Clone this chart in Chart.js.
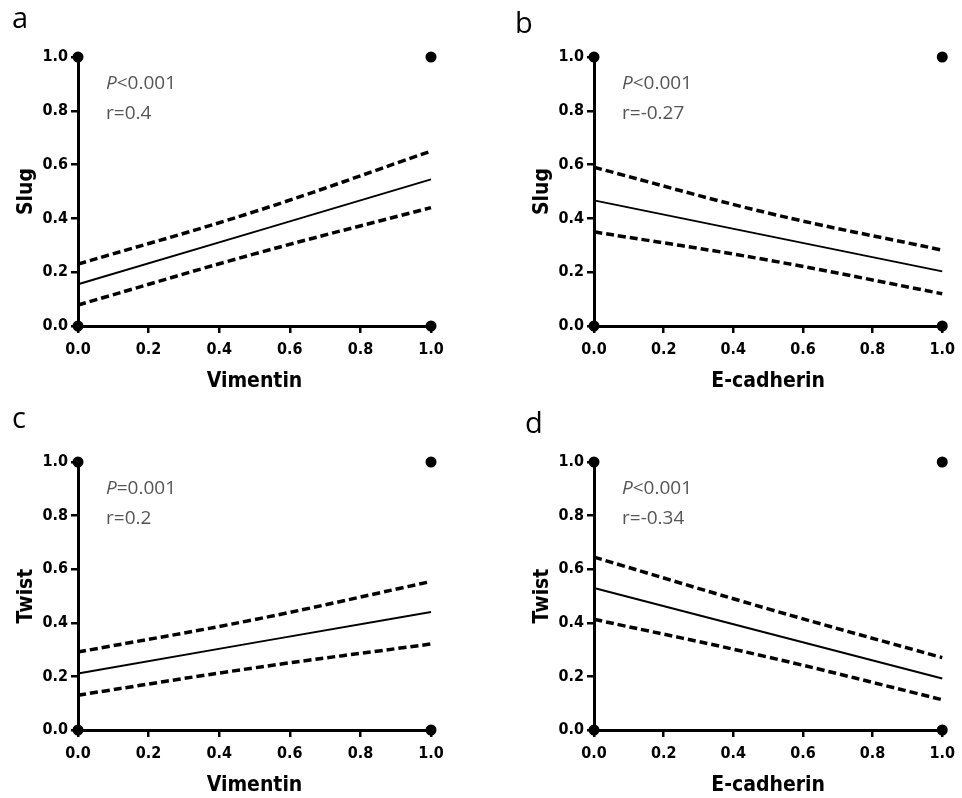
<!DOCTYPE html>
<html>
<head>
<meta charset="utf-8">
<script src="https://cdn.jsdelivr.net/npm/chart.js@4.4.0/dist/chart.umd.min.js"></script>
<style>
  body { margin: 0; background: #fff; }
  .panel { position: absolute; }
</style>
</head>
<body>
<div class="panel" style="left:0;top:0"><canvas id="chartA" width="481" height="400"></canvas></div>
<div class="panel" style="left:481px;top:0"><canvas id="chartB" width="481" height="400"></canvas></div>
<div class="panel" style="left:0;top:400px"><canvas id="chartC" width="481" height="398"></canvas></div>
<div class="panel" style="left:481px;top:400px"><canvas id="chartD" width="481" height="398"></canvas></div>
<script>
// x positions where the fit / CI lines are read
const xPoints = [0, 0.5, 1];
// observed data points (binary scores), same in all four panels
const cornerX = [0, 0, 1, 1];
const cornerY = [0, 1, 0, 1];

// a: Slug vs Vimentin
const slugVimFit = [0.155, 0.35, 0.545];
const slugVimUpper = [0.23, 0.425, 0.65];
const slugVimLower = [0.078, 0.268, 0.44];
// b: Slug vs E-cadherin
const slugEcadFit = [0.467, 0.335, 0.203];
const slugEcadUpper = [0.59, 0.42, 0.282];
const slugEcadLower = [0.35, 0.245, 0.12];
// c: Twist vs Vimentin
const twistVimFit = [0.211, 0.326, 0.44];
const twistVimUpper = [0.291, 0.412, 0.554];
const twistVimLower = [0.13, 0.232, 0.321];
// d: Twist vs E-cadherin
const twistEcadFit = [0.53, 0.361, 0.192];
const twistEcadUpper = [0.645, 0.452, 0.27];
const twistEcadLower = [0.413, 0.272, 0.113];

const axisTicks = [0, 0.2, 0.4, 0.6, 0.8, 1.0];

const narrowFamily = "'DejaVu Sans Condensed', 'Liberation Sans', Arial, sans-serif";
const tickFont = { family: narrowFamily, size: 16, weight: 'bold' };
const titleFont = { family: narrowFamily, size: 21, weight: 'bold' };

function toPoints(ys) {
    return xPoints.map((x, i) => ({ x: x, y: ys[i] }));
}

function labelPlugin(letter, letterPos, pLabel, rLabel) {
    return {
        id: 'labels' + letter,
        afterDraw(chart) {
            const ctx = chart.ctx;
            const area = chart.chartArea;
            ctx.save();
            ctx.fillStyle = '#000';
            ctx.font = "29px 'Open Sans', sans-serif";
            ctx.textBaseline = 'alphabetic';
            ctx.fillText(letter, letterPos[0], letterPos[1]);

            ctx.fillStyle = '#555';
            ctx.textBaseline = 'middle';
            const tx = area.left + 28;
            ctx.font = "italic 19px 'Open Sans', sans-serif";
            ctx.fillText('P', tx, area.top + 27);
            const pw = ctx.measureText('P').width;
            ctx.font = "19px 'Open Sans', sans-serif";
            ctx.fillText(pLabel, tx + pw, area.top + 27);
            ctx.fillText(rLabel, tx, area.top + 57);
            ctx.restore();
        }
    };
}

function makePanel(canvasId, cfg) {
    const lineStyle = { showLine: true, pointRadius: 0, borderColor: '#000', fill: false, clip: false, tension: 0.4 };
    new Chart(document.getElementById(canvasId), {
        type: 'scatter',
        data: {
            datasets: [
                { data: cornerX.map((x, i) => ({ x: x, y: cornerY[i] })), pointRadius: 5.5, pointBackgroundColor: '#000', pointBorderWidth: 0, clip: false },
                Object.assign({}, lineStyle, { data: toPoints(cfg.fit), borderWidth: 2, tension: 0 }),
                Object.assign({}, lineStyle, { data: toPoints(cfg.upper), borderWidth: 3.5, borderDash: [8, 4] }),
                Object.assign({}, lineStyle, { data: toPoints(cfg.lower), borderWidth: 3.5, borderDash: [8, 4] })
            ]
        },
        options: {
            responsive: false,
            animation: false,
            layout: { padding: cfg.padding },
            plugins: { legend: { display: false }, tooltip: { enabled: false } },
            scales: {
                x: {
                    type: 'linear', min: 0, max: 1,
                    afterBuildTicks: s => { s.ticks = axisTicks.map(v => ({ value: v })); },
                    afterFit: s => { s.height = 68; },
                    ticks: { callback: v => v.toFixed(1), font: tickFont, color: '#000', padding: 7, maxRotation: 0 },
                    grid: { drawOnChartArea: false, color: '#000', lineWidth: 2.5, tickLength: 7 },
                    border: { color: '#000', width: 3 },
                    title: { display: true, text: cfg.xTitle, font: titleFont, color: '#000', padding: 0 }
                },
                y: {
                    type: 'linear', min: 0, max: 1,
                    afterBuildTicks: s => { s.ticks = axisTicks.map(v => ({ value: v })); },
                    afterFit: s => { s.width = 64; },
                    ticks: { callback: v => v.toFixed(1), font: tickFont, color: '#000', padding: 3 },
                    grid: { drawOnChartArea: false, color: '#000', lineWidth: 2.5, tickLength: 7 },
                    border: { color: '#000', width: 3 },
                    title: { display: true, text: cfg.yTitle, font: titleFont, color: '#000', padding: 0 }
                }
            }
        },
        plugins: [labelPlugin(cfg.letter, cfg.letterPos, cfg.pLabel, cfg.rLabel)]
    });
}

makePanel('chartA', {
    letter: 'a', letterPos: [12, 28], pLabel: '<0.001', rLabel: 'r=0.4',
    xTitle: 'Vimentin', yTitle: 'Slug',
    fit: slugVimFit, upper: slugVimUpper, lower: slugVimLower,
    padding: { left: 14, right: 50, top: 57, bottom: 6 }
});
makePanel('chartB', {
    letter: 'b', letterPos: [34, 33], pLabel: '<0.001', rLabel: 'r=-0.27',
    xTitle: 'E-cadherin', yTitle: 'Slug',
    fit: slugEcadFit, upper: slugEcadUpper, lower: slugEcadLower,
    padding: { left: 49, right: 15, top: 57, bottom: 6 }
});
makePanel('chartC', {
    letter: 'c', letterPos: [12, 28], pLabel: '=0.001', rLabel: 'r=0.2',
    xTitle: 'Vimentin', yTitle: 'Twist',
    fit: twistVimFit, upper: twistVimUpper, lower: twistVimLower,
    padding: { left: 14, right: 50, top: 62, bottom: 0 }
});
makePanel('chartD', {
    letter: 'd', letterPos: [44, 33], pLabel: '<0.001', rLabel: 'r=-0.34',
    xTitle: 'E-cadherin', yTitle: 'Twist',
    fit: twistEcadFit, upper: twistEcadUpper, lower: twistEcadLower,
    padding: { left: 49, right: 15, top: 62, bottom: 0 }
});
</script>
</body>
</html>
